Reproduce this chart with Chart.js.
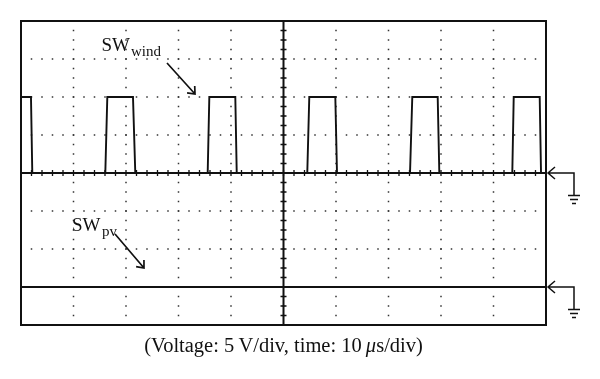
<!DOCTYPE html>
<html>
<head>
<meta charset="utf-8">
<script src="https://cdn.jsdelivr.net/npm/chart.js@4/dist/chart.umd.min.js"></script>
<style>
html,body{margin:0;padding:0;background:#fff;}
#wrap{width:600px;height:379px;position:relative;}
</style>
</head>
<body>
<div id="wrap"><canvas id="c" width="600" height="379"></canvas></div>
<script>
// time in microseconds (10 us/div), levels in vertical divisions (5 V/div)
const windTime  = [0, 1.9, 2.15, 16.06, 16.44, 21.33, 21.77, 35.56, 35.87, 40.82, 41.09, 54.53, 54.91, 59.87, 60.19, 74.10, 74.53, 79.37, 79.68, 93.58, 93.85, 98.80, 99.05, 100];
const windLevel = [2, 2, 0, 0, 2, 2, 0, 0, 2, 2, 0, 0, 2, 2, 0, 0, 2, 2, 0, 0, 2, 2, 0, 0];
const pvTime    = [0, 100];
const pvLevel   = [-3, -3];
const xGrid = [0, 10, 20, 30, 40, 50, 60, 70, 80, 90, 100];
const yGrid = [-4, -3, -2, -1, 0, 1, 2, 3, 4];
const windRef = 0, pvRef = -3;
const captionParts = [
  { text: "(Voltage: 5\u2009V/div, time: 10\u2009", italic: false },
  { text: "\u03bc", italic: true },
  { text: "s/div)", italic: false }
];

const SERIF = '"Liberation Serif", "DejaVu Serif", serif';

function arrow(ctx, x0, y0, x1, y1) {
  ctx.beginPath();
  ctx.moveTo(x0, y0); ctx.lineTo(x1, y1);
  const a = Math.atan2(y1 - y0, x1 - x0);
  const L = 8, s = 0.7;
  ctx.moveTo(x1 - L * Math.cos(a - s), y1 - L * Math.sin(a - s));
  ctx.lineTo(x1, y1);
  ctx.lineTo(x1 - L * Math.cos(a + s), y1 - L * Math.sin(a + s));
  ctx.stroke();
}

function ground(ctx, xTip, y) {
  ctx.beginPath();
  ctx.moveTo(xTip + 7, y - 6); ctx.lineTo(xTip, y); ctx.lineTo(xTip + 7, y + 6);
  ctx.moveTo(xTip, y); ctx.lineTo(xTip + 26, y); ctx.lineTo(xTip + 26, y + 22);
  ctx.stroke();
  const gx = xTip + 26;
  ctx.beginPath();
  ctx.moveTo(gx - 6, y + 22.5); ctx.lineTo(gx + 6, y + 22.5);
  ctx.moveTo(gx - 4, y + 26.5); ctx.lineTo(gx + 4, y + 26.5);
  ctx.moveTo(gx - 2, y + 30.5); ctx.lineTo(gx + 2, y + 30.5);
  ctx.stroke();
}

const scopePlugin = {
  id: 'scope',
  beforeDatasetsDraw(chart) {
    const ctx = chart.ctx, xs = chart.scales.x, ys = chart.scales.y;
    const a = chart.chartArea;
    ctx.save();
    // dotted grid
    ctx.fillStyle = '#333';
    xGrid.slice(1, -1).forEach(v => {
      const px = xs.getPixelForValue(v);
      for (let d = yGrid[0]; d <= yGrid[yGrid.length - 1] + 1e-6; d += 0.25) {
        ctx.fillRect(px - 0.75, ys.getPixelForValue(d) - 0.75, 1.5, 1.5);
      }
    });
    yGrid.slice(1, -1).forEach(v => {
      const py = ys.getPixelForValue(v);
      for (let t = xGrid[0]; t <= xGrid[xGrid.length - 1] + 1e-6; t += 2) {
        ctx.fillRect(xs.getPixelForValue(t) - 0.75, py - 0.75, 1.5, 1.5);
      }
    });
    // crosshair with minor ticks
    ctx.strokeStyle = '#111';
    ctx.lineWidth = 2;
    const cx = xs.getPixelForValue(50), cy = ys.getPixelForValue(0);
    ctx.beginPath();
    ctx.moveTo(cx, a.top); ctx.lineTo(cx, a.bottom);
    ctx.moveTo(a.left, cy); ctx.lineTo(a.right, cy);
    ctx.stroke();
    ctx.lineWidth = 1.3;
    ctx.beginPath();
    for (let d = -4; d <= 4 + 1e-6; d += 0.25) {
      const py = ys.getPixelForValue(d);
      ctx.moveTo(cx - 3, py); ctx.lineTo(cx + 3, py);
    }
    for (let t = 0; t <= 100 + 1e-6; t += 2) {
      const px = xs.getPixelForValue(t);
      ctx.moveTo(px, cy - 3); ctx.lineTo(px, cy + 3);
    }
    ctx.stroke();
    // frame
    ctx.lineWidth = 2;
    ctx.strokeRect(a.left, a.top, a.right - a.left, a.bottom - a.top);
    ctx.restore();
  },
  afterDraw(chart) {
    const ctx = chart.ctx, xs = chart.scales.x, ys = chart.scales.y;
    const a = chart.chartArea;
    ctx.save();
    ctx.fillStyle = '#111';
    ctx.strokeStyle = '#111';
    ctx.lineWidth = 1.7;
    ctx.textBaseline = 'alphabetic';
    ctx.textAlign = 'left';
    // SW_wind label
    ctx.font = '19px ' + SERIF;
    ctx.fillText('SW', 101.5, 51);
    ctx.font = '15px ' + SERIF;
    ctx.fillText('wind', 131, 56);
    arrow(ctx, 167, 63, 195, 94);
    // SW_pv label
    ctx.font = '19px ' + SERIF;
    ctx.fillText('SW', 72, 231);
    ctx.font = '15px ' + SERIF;
    ctx.fillText('pv', 102, 236);
    arrow(ctx, 115, 234, 144, 268);
    // ground references
    ctx.lineWidth = 1.5;
    ground(ctx, a.right + 2, ys.getPixelForValue(windRef));
    ground(ctx, a.right + 2, ys.getPixelForValue(pvRef));
    // caption (italic mu)
    const size = 20.5;
    const fonts = captionParts.map(p => (p.italic ? 'italic ' : '') + size + 'px ' + SERIF);
    let total = 0;
    const widths = captionParts.map((p, i) => { ctx.font = fonts[i]; const w = ctx.measureText(p.text).width; total += w; return w; });
    let x = (a.left + a.right) / 2 - total / 2;
    captionParts.forEach((p, i) => { ctx.font = fonts[i]; ctx.fillText(p.text, x, 352); x += widths[i]; });
    ctx.restore();
  }
};

new Chart(document.getElementById('c'), {
  type: 'line',
  data: {
    datasets: [
      { label: 'SW_wind', data: windTime.map((t, i) => ({ x: t, y: windLevel[i] })),
        borderColor: '#111', borderWidth: 1.9, pointRadius: 0, tension: 0, fill: false },
      { label: 'SW_pv', data: pvTime.map((t, i) => ({ x: t, y: pvLevel[i] })),
        borderColor: '#111', borderWidth: 2, pointRadius: 0, tension: 0, fill: false }
    ]
  },
  options: {
    responsive: false,
    animation: false,
    events: [],
    layout: { padding: { left: 21, right: 54, top: 21, bottom: 54 } },
    plugins: { legend: { display: false }, tooltip: { enabled: false }, title: { display: false } },
    scales: {
      x: { type: 'linear', min: 0, max: 100, display: false },
      y: { type: 'linear', min: -4, max: 4, display: false }
    }
  },
  plugins: [scopePlugin]
});
</script>
</body>
</html>
